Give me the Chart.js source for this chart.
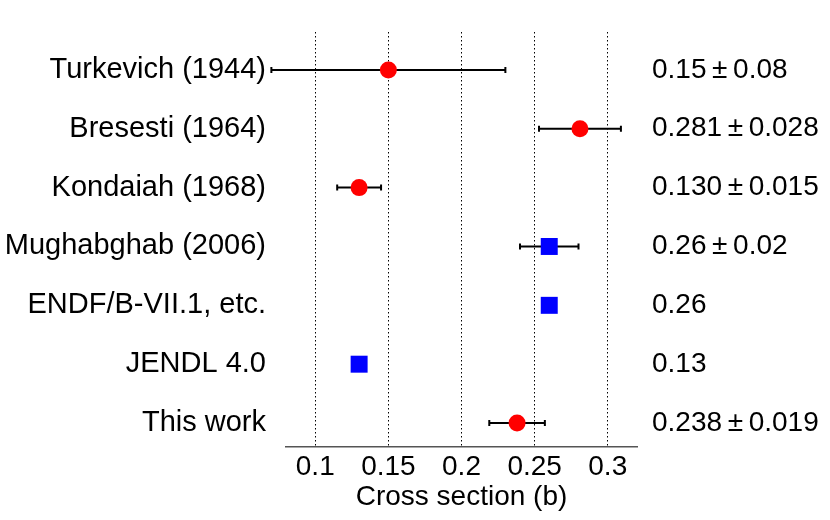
<!DOCTYPE html>
<html>
<head>
<meta charset="utf-8">
<script src="https://cdn.jsdelivr.net/npm/chart.js@4/dist/chart.umd.min.js"></script>
<style>
  html, body { margin: 0; padding: 0; background: #fff; }
  #wrap { width: 830px; height: 520px; }
</style>
</head>
<body>
<div id="wrap"><canvas id="myChart"></canvas></div>
<script>
// rows, top to bottom
const names = ["Turkevich (1944)", "Bresesti (1964)", "Kondaiah (1968)", "Mughabghab (2006)",
  "ENDF/B-VII.1, etc.", "JENDL 4.0", "This work"];
const values = [0.15, 0.281, 0.130, 0.26, 0.26, 0.13, 0.238];
const errors = [0.08, 0.028, 0.015, 0.02, null, null, 0.019];
const valueText = ["0.15\u2009\u00b1\u20090.08", "0.281\u2009\u00b1\u20090.028", "0.130\u2009\u00b1\u20090.015",
  "0.26\u2009\u00b1\u20090.02", "0.26", "0.13", "0.238\u2009\u00b1\u20090.019"];
const measured = [0, 1, 2, 6];   // red circles
const evaluated = [3, 4, 5];     // blue squares
const xTicks = [0.1, 0.15, 0.2, 0.25, 0.3];

const fam = "'Liberation Sans', Arial, sans-serif";
const font = { family: fam, size: 28 };
const nameFont = { family: fam, size: 29 };

const errorBars = {
  id: 'errorBars',
  beforeDatasetsDraw(chart) {
    const ctx = chart.ctx, x = chart.scales.x, y = chart.scales.y;
    ctx.save();
    ctx.strokeStyle = '#000';
    ctx.lineWidth = 2;
    for (let i = 0; i < values.length; i++) {
      if (errors[i] == null) continue;
      const x1 = x.getPixelForValue(values[i] - errors[i]);
      const x2 = x.getPixelForValue(values[i] + errors[i]);
      const py = y.getPixelForValue(i);
      ctx.beginPath();
      ctx.moveTo(x1, py); ctx.lineTo(x2, py);
      ctx.moveTo(x1, py - 3); ctx.lineTo(x1, py + 3);
      ctx.moveTo(x2, py - 3); ctx.lineTo(x2, py + 3);
      ctx.stroke();
    }
    ctx.restore();
  }
};

const ctx = document.getElementById('myChart');
new Chart(ctx, {
  type: 'scatter',
  data: {
    datasets: [{
      data: measured.map(i => ({ x: values[i], y: i })),
      backgroundColor: '#ff0000',
      borderWidth: 0,
      pointStyle: 'circle',
      pointRadius: 8.5,
      pointHoverRadius: 8.5
    }, {
      data: evaluated.map(i => ({ x: values[i], y: i })),
      backgroundColor: '#0000ff',
      borderWidth: 0,
      pointStyle: 'rect',
      pointRadius: 12,
      pointHoverRadius: 12
    }]
  },
  options: {
    responsive: true,
    maintainAspectRatio: false,
    animation: false,
    layout: { padding: { top: 32, left: 0, right: 0, bottom: 0 } },
    plugins: { legend: { display: false }, tooltip: { enabled: false } },
    scales: {
      x: {
        type: 'linear',
        min: 0.08,
        max: 0.32,
        afterBuildTicks: s => { s.ticks = xTicks.map(v => ({ value: v })); },
        afterFit: s => { s.height = 73; s.paddingLeft = 0; s.paddingRight = 0; },
        grid: {
          color: '#000',
          lineWidth: 1,
          drawTicks: false
        },
        border: { display: true, color: '#555', width: 1.5, dash: [1.5, 2.5] },
        ticks: { color: '#000', font: font, padding: 3, maxRotation: 0,
          callback: v => String(v) },
        title: { display: true, text: 'Cross section (b)', color: '#000', font: font, padding: { top: 0, bottom: 6 } }
      },
      y: {
        type: 'linear',
        position: 'left',
        reverse: true,
        min: -0.644,
        max: 6.407,
        afterBuildTicks: s => { s.ticks = names.map((n, i) => ({ value: i })); },
        afterFit: s => { s.width = 286; s.paddingTop = 0; s.paddingBottom = 0; },
        grid: { display: false, drawTicks: false },
        border: { display: false },
        ticks: { color: '#000', font: nameFont, padding: 20, callback: (v) => names[v] }
      },
      y2: {
        type: 'linear',
        position: 'right',
        reverse: true,
        min: -0.644,
        max: 6.407,
        afterBuildTicks: s => { s.ticks = valueText.map((n, i) => ({ value: i })); },
        afterFit: s => { s.width = 193; s.paddingTop = 0; s.paddingBottom = 0; },
        grid: { display: false, drawTicks: false },
        border: { display: false },
        ticks: { color: '#000', font: font, padding: 15, callback: (v) => valueText[v] }
      }
    }
  },
  plugins: [errorBars]
});
</script>
</body>
</html>
